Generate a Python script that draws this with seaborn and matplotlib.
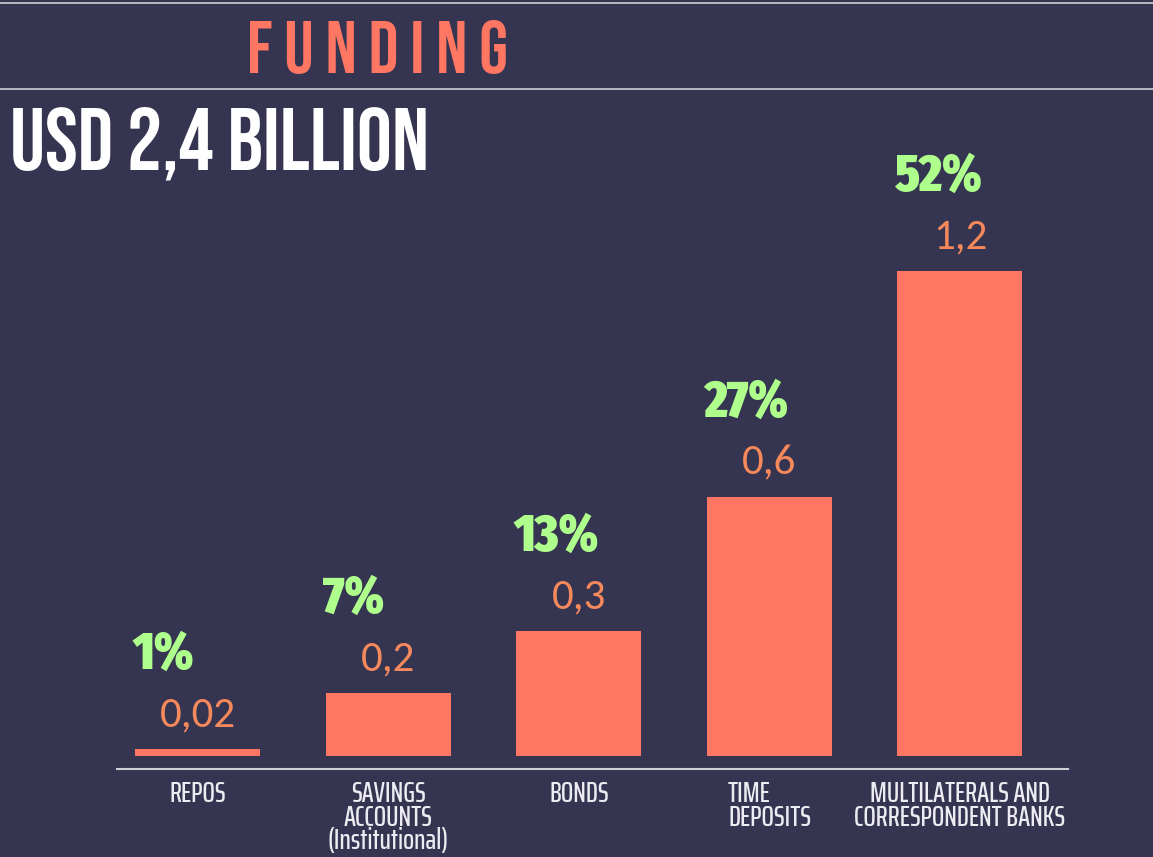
import matplotlib
matplotlib.use("Agg")
import pandas as pd
import matplotlib.pyplot as plt
import seaborn as sns

#------------------------------------------------------------------
# data
#------------------------------------------------------------------
categories = ["REPOS", "SAVINGS\nACCOUNTS\n(Institutional)", "BONDS",
              "TIME\nDEPOSITS", "MULTILATERALS AND\nCORRESPONDENT BANKS"]
amounts = [0.018, 0.162, 0.322, 0.667, 1.248]   # USD billion (bar heights)
amount_labels = ["0,02", "0,2", "0,3", "0,6", "1,2"]
share_labels = ["1%", "7%", "13%", "27%", "52%"]

bg = "#363551"
bar_color = "#FF7663"
value_color = "#F5895C"
share_color = "#AEFF8C"
line_color = "#CFCFD8"

head_font = ["Bebas Neue", "DejaVu Sans"]
label_font = ["Saira ExtraCondensed", "Barlow Condensed", "DejaVu Sans"]
share_font = ["Fira Sans Extra Condensed", "Barlow Condensed", "DejaVu Sans"]
value_font = ["Carlito", "DejaVu Sans"]

df = pd.DataFrame({"category": categories, "amount": amounts})

sns.set_style("white")
plt.rcParams["font.family"] = label_font

fig = plt.figure(figsize=(11.53, 8.57), dpi=100, facecolor=bg)
ax = fig.add_axes([117 / 1153, 88 / 857, 951 / 1153, 639 / 857])
ax.set_facecolor(bg)

sns.barplot(data=df, x="category", y="amount", color=bar_color,
            saturation=1, width=0.656, linewidth=0, ax=ax)

ax.set_xlim(-0.425, 4.567)
ax.set_ylim(-0.0335, 1.611)

for side in ["top", "left", "right"]:
    ax.spines[side].set_visible(False)
ax.spines["bottom"].set_color(line_color)
ax.spines["bottom"].set_linewidth(1.5)
ax.set_yticks([])
ax.set_xlabel("")
ax.set_ylabel("")
ax.tick_params(axis="x", length=0, pad=8, colors="#ECECF2", labelsize=21)
for lab in ax.get_xticklabels():
    lab.set_linespacing(0.8)
    lab.set_fontweight(500)
ax.get_xticklabels()[3].set_multialignment("left")

# labels above bars
for bar, val, share in zip(ax.patches, amount_labels, share_labels):
    cx = bar.get_x() + bar.get_width() / 2
    top = bar.get_height()
    ax.annotate(val, xy=(cx, top), xytext=(0, 16), textcoords="offset points",
                ha="center", va="baseline", color=value_color,
                fontsize=31, family=value_font)
    ax.annotate(share, xy=(bar.get_x(), top), xytext=(-2, 58),
                textcoords="offset points", ha="left", va="baseline",
                color=share_color, fontsize=38, fontweight=900,
                family=share_font)

# header
fig.add_artist(plt.Line2D([0, 1], [1 - 3 / 857] * 2, color=line_color, lw=1.2))
fig.add_artist(plt.Line2D([0, 1], [1 - 89 / 857] * 2, color=line_color, lw=1.2))
fig.text(247 / 1153, 1 - 73 / 857, "F U N D I N G", color=bar_color,
         fontsize=53, family=head_font, ha="left", va="baseline")
fig.text(10 / 1153, 1 - 170 / 857, "USD 2,4 BILLION", color="white",
         fontsize=63, family=head_font, ha="left", va="baseline")

plt.savefig("out.png", dpi=100, facecolor=bg)
